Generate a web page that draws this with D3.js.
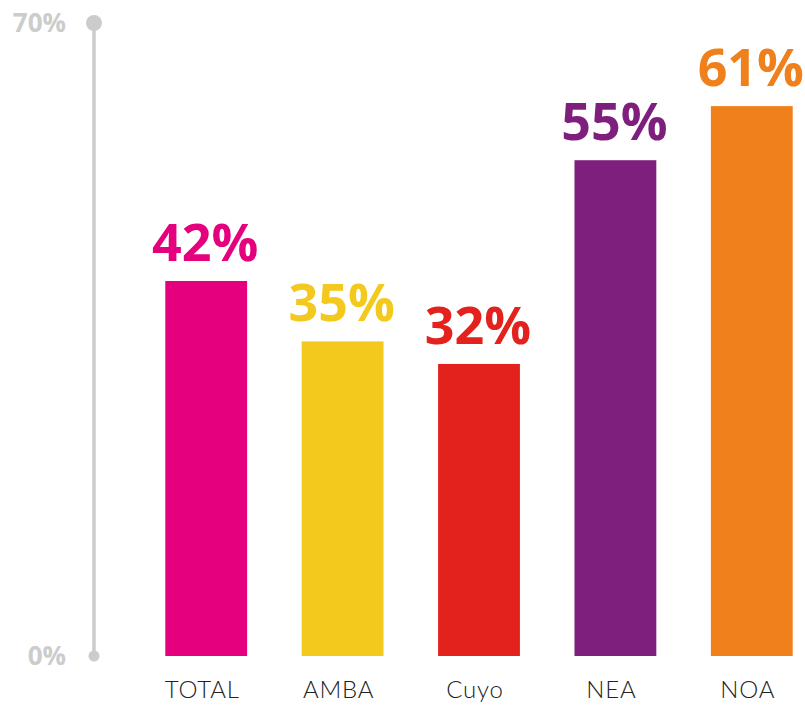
<!DOCTYPE html>
<html>
<head>
<meta charset="utf-8">
<script src="https://cdn.jsdelivr.net/npm/d3@7"></script>
<style>
  body { margin: 0; background: #fff; }
  svg { display: block; }
</style>
</head>
<body>
<svg id="chart" width="805" height="705"></svg>
<script>
const categories = ['TOTAL', 'AMBA', 'Cuyo', 'NEA', 'NOA'];
const values = [41.6, 34.9, 32.4, 55.0, 61.0];
const colors = ['#e5007e', '#f4c91e', '#e3221e', '#7e1f7e', '#f0801c'];
const yTicks = [0, 70];

const width = 805, height = 705;
const svg = d3.select('#chart');

const x = d3.scaleBand()
  .domain(categories)
  .range([138, 820])
  .paddingInner(0.4)
  .paddingOuter(0.2);

const y = d3.scaleLinear()
  .domain([0, 70])
  .range([656, 25]);

// axis line with dots at ends
const axisX = 94;
svg.append('line')
  .attr('x1', axisX).attr('x2', axisX)
  .attr('y1', y(70)).attr('y2', y(0))
  .attr('stroke', '#cccccc')
  .attr('stroke-width', 3.5);

svg.append('circle').attr('cx', axisX).attr('cy', y(70) - 2).attr('r', 8).attr('fill', '#cccccc');
svg.append('circle').attr('cx', axisX).attr('cy', y(0)).attr('r', 5.5).attr('fill', '#cccccc');

svg.append('g')
  .selectAll('text')
  .data(yTicks)
  .join('text')
  .attr('x', 66)
  .attr('y', d => (d == 70 ? y(d) - 2 : y(d)) + 9)
  .attr('text-anchor', 'end')
  .attr('font-family', 'Open Sans')
  .attr('font-weight', 700)
  .attr('font-size', 26)
  .attr('fill', '#cccccc')
  .text(d => d + '%');

// bars
svg.append('g')
  .selectAll('rect')
  .data(values)
  .join('rect')
  .attr('x', (d, i) => x(categories[i]))
  .attr('y', d => y(d))
  .attr('width', x.bandwidth())
  .attr('height', d => y(0) - y(d))
  .attr('fill', (d, i) => colors[i]);

// value labels
svg.append('g')
  .selectAll('text')
  .data(values)
  .join('text')
  .attr('x', (d, i) => x(categories[i]) + x.bandwidth() / 2 - 1)
  .attr('y', d => y(d) - 20)
  .attr('text-anchor', 'middle')
  .attr('font-family', 'Open Sans')
  .attr('font-weight', 700)
  .attr('font-size', 52)
  .attr('fill', (d, i) => colors[i])
  .text(d => Math.round(d) + '%');

// category labels
svg.append('g')
  .selectAll('text')
  .data(categories)
  .join('text')
  .attr('x', d => x(d) + x.bandwidth() / 2 - 4)
  .attr('y', 698)
  .attr('text-anchor', 'middle')
  .attr('font-family', 'Lato')
  .attr('font-weight', 300)
  .attr('font-size', 24)
  .attr('letter-spacing', 0.8)
  .attr('fill', '#222222')
  .text(d => d);
</script>
</body>
</html>
